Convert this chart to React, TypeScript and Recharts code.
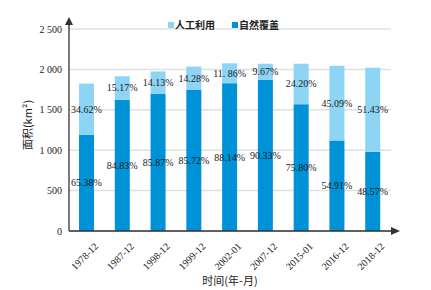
import React from 'react';
import { BarChart, Bar, XAxis, YAxis, CartesianGrid, Legend, LabelList } from 'recharts';

const periods = ['1978-12', '1987-12', '1998-12', '1999-12', '2002-01', '2007-12', '2015-01', '2016-12', '2018-12'];
const naturalArea = [1190, 1625, 1695, 1745, 1830, 1870, 1570, 1120, 980];
const artificialArea = [635, 290, 280, 290, 245, 200, 500, 925, 1040];
const naturalPct = ['65.38%', '84.83%', '85.87%', '85.72%', '88.14%', '90.33%', '75.80%', '54.91%', '48.57%'];
const artificialPct = ['34.62%', '15.17%', '14.13%', '14.28%', '11. 86%', '9.67%', '24.20%', '45.09%', '51.43%'];
const yTicks = [0, 500, 1000, 1500, 2000, 2500];

const LIGHT = '#8dd4f5';
const DARK = '#0092d6';
const SERIF = '"Liberation Serif", "DejaVu Serif", serif';
const CJK = '"Noto Sans CJK SC", sans-serif';

const data = periods.map((p, i) => ({
  period: p,
  natural: naturalArea[i],
  artificial: artificialArea[i],
}));

const fmtY = (v: number) =>
  v >= 1000 ? `${Math.floor(v / 1000)} ${String(v % 1000).padStart(3, '0')}` : String(v);

const XTick = (props: any) => {
  const { x, y, payload } = props;
  const ax = x + 12;
  const ay = y + 8;
  return (
    <text x={ax} y={ay} transform={`rotate(-45 ${ax} ${ay})`} textAnchor="end" fontSize={10} fontFamily={SERIF} fill="#222">
      {payload.value}
    </text>
  );
};

const makeLabel = (texts: string[]) => (props: any) => {
  const { x, y, width, height, index } = props;
  return (
    <text x={x + width / 2} y={y + height / 2} textAnchor="middle" dominantBaseline="central" fontSize={10} fontFamily={SERIF} fill="#1a1a1a">
      {texts[index]}
    </text>
  );
};

const LegendContent = () => (
  <div style={{ display: 'flex', fontFamily: CJK, fontSize: 10, fontWeight: 600, color: '#222', lineHeight: '12px' }}>
    <span style={{ display: 'flex', alignItems: 'center', marginRight: 17 }}>
      <span style={{ width: 6, height: 6, background: LIGHT, display: 'inline-block', marginRight: 1 }} />
      人工利用
    </span>
    <span style={{ display: 'flex', alignItems: 'center' }}>
      <span style={{ width: 6, height: 6, background: DARK, display: 'inline-block', marginRight: 1 }} />
      自然覆盖
    </span>
  </div>
);

const YLabel = (props: any) => {
  const { viewBox } = props;
  const cx = viewBox.x + 27;
  const cy = viewBox.y + viewBox.height / 2 - 5;
  return (
    <text x={cx} y={cy} transform={`rotate(-90 ${cx} ${cy})`} textAnchor="middle" dominantBaseline="central" fontSize={11} fontFamily={CJK} fill="#222">
      面积(km²)
    </text>
  );
};

export default function App() {
  return (
    <div style={{ position: 'absolute', left: 0, top: 0, background: '#fff' }}>
      <BarChart width={431} height={290} data={data} margin={{ top: 17, right: 40, bottom: 0, left: 0 }}>
        <defs>
          <marker id="arrowUp" markerUnits="userSpaceOnUse" markerWidth="14" markerHeight="10" refX="0" refY="5" viewBox="0 0 14 10" orient="auto-start-reverse">
            <path d="M0,4.3 L4,4.3 L4,5.7 L0,5.7 Z M4,1 L12,5 L4,9 Z" fill="#333" />
          </marker>
          <marker id="arrowRight" markerUnits="userSpaceOnUse" markerWidth="12" markerHeight="10" refX="0" refY="5" viewBox="0 0 12 10" orient="auto">
            <path d="M0,1 L9,5 L0,9 Z" fill="#333" />
          </marker>
        </defs>
        <CartesianGrid vertical={false} stroke="#e0e0e0" strokeWidth={1.5} />
        <XAxis
          dataKey="period"
          height={59}
          tickLine={false}
          interval={0}
          axisLine={{ stroke: '#333', strokeWidth: 1.3, markerEnd: 'url(#arrowRight)' }}
          tick={<XTick />}
          label={{ value: '时间(年-月)', position: 'insideBottom', offset: 5, fontSize: 11, fontFamily: CJK, fill: '#222' }}
        />
        <YAxis
          width={69}
          domain={[0, 2500]}
          ticks={yTicks}
          tickFormatter={fmtY}
          tickLine={false}
          axisLine={{ stroke: '#333', strokeWidth: 1.3, markerStart: 'url(#arrowUp)' }}
          tick={{ fontSize: 10, fontFamily: SERIF, fill: '#222', dx: 1 }}
          label={<YLabel />}
        />
        <Legend
          verticalAlign="top"
          content={<LegendContent />}
          wrapperStyle={{ position: 'absolute', top: 19, left: 168, width: 'auto' }}
        />
        <Bar dataKey="natural" name="自然覆盖" stackId="a" fill={DARK} barSize={15} isAnimationActive={false}>
          <LabelList dataKey="natural" content={makeLabel(naturalPct)} />
        </Bar>
        <Bar dataKey="artificial" name="人工利用" stackId="a" fill={LIGHT} barSize={15} isAnimationActive={false}>
          <LabelList dataKey="artificial" content={makeLabel(artificialPct)} />
        </Bar>
      </BarChart>
    </div>
  );
}
